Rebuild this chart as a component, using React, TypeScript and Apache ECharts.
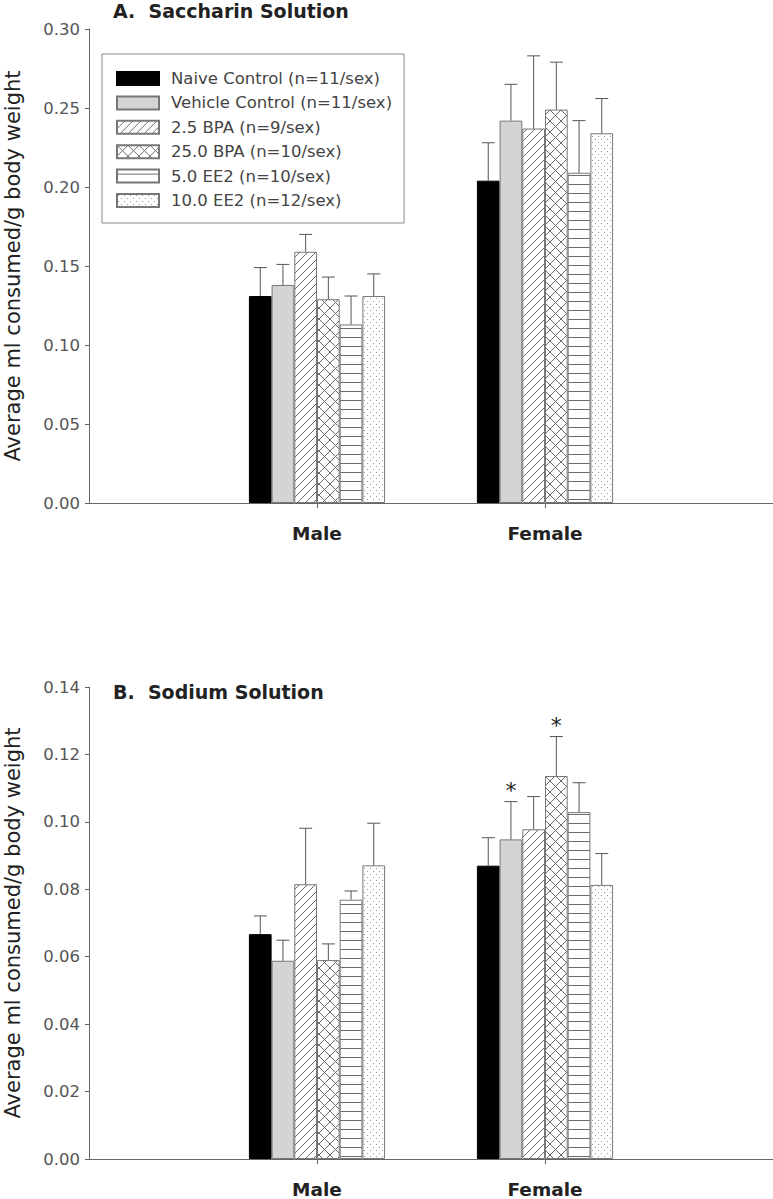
import React, { useEffect, useRef } from "react";
import * as echarts from "echarts";

const groupNames = [
  "Naive Control (n=11/sex)",
  "Vehicle Control (n=11/sex)",
  "2.5 BPA (n=9/sex)",
  "25.0 BPA (n=10/sex)",
  "5.0 EE2 (n=10/sex)",
  "10.0 EE2 (n=12/sex)",
];
const sexCategories = ["", "Male", "Female", ""];

// Panel A: Saccharin (mean, SEM)
const saccharinMale = [0.131, 0.138, 0.159, 0.129, 0.113, 0.131];
const saccharinMaleErr = [0.018, 0.013, 0.011, 0.014, 0.018, 0.014];
const saccharinFemale = [0.204, 0.242, 0.237, 0.249, 0.209, 0.234];
const saccharinFemaleErr = [0.024, 0.023, 0.046, 0.030, 0.033, 0.022];

// Panel B: Sodium (mean, SEM)
const sodiumMale = [0.0667, 0.0588, 0.0815, 0.059, 0.0769, 0.0871];
const sodiumMaleErr = [0.0054, 0.0061, 0.0166, 0.0048, 0.0026, 0.0125];
const sodiumFemale = [0.087, 0.0948, 0.0978, 0.1136, 0.1029, 0.0813];
const sodiumFemaleErr = [0.0083, 0.0112, 0.0097, 0.0117, 0.0087, 0.0093];
const sodiumFemaleSig = [false, true, false, true, false, false];

const FONT = "DejaVu Sans";
const BAR_W = 22.7;

function makeCanvas(w: number, h: number, draw: (ctx: CanvasRenderingContext2D) => void) {
  const c = document.createElement("canvas");
  c.width = w;
  c.height = h;
  const ctx = c.getContext("2d")!;
  ctx.fillStyle = "#ffffff";
  ctx.fillRect(0, 0, w, h);
  draw(ctx);
  return c;
}

function buildFills(): any[] {
  const hatch = makeCanvas(8, 8, (ctx) => {
    ctx.strokeStyle = "#6a6a6a";
    ctx.lineWidth = 1;
    ctx.beginPath();
    ctx.moveTo(-1, 9);
    ctx.lineTo(9, -1);
    ctx.moveTo(-1, 1);
    ctx.lineTo(1, -1);
    ctx.moveTo(7, 9);
    ctx.lineTo(9, 7);
    ctx.stroke();
  });
  const cross = makeCanvas(11, 11, (ctx) => {
    ctx.strokeStyle = "#6a6a6a";
    ctx.lineWidth = 1;
    ctx.beginPath();
    ctx.moveTo(-1, 12);
    ctx.lineTo(12, -1);
    ctx.moveTo(-1, -1);
    ctx.lineTo(12, 12);
    ctx.stroke();
  });
  const horiz = makeCanvas(9, 9, (ctx) => {
    ctx.fillStyle = "#6a6a6a";
    ctx.fillRect(0, 4, 9, 1);
  });
  const dots = makeCanvas(6, 6, (ctx) => {
    ctx.fillStyle = "#9a9a9a";
    ctx.fillRect(1, 1, 1, 1);
    ctx.fillRect(4, 4, 1, 1);
  });
  return [
    "#000000",
    "#d4d4d4",
    { image: hatch, repeat: "repeat" },
    { image: cross, repeat: "repeat" },
    { image: horiz, repeat: "repeat" },
    { image: dots, repeat: "repeat" },
  ];
}

function errorData(male: number[], maleErr: number[], female: number[], femaleErr: number[], femaleSig?: boolean[]) {
  const out: any[] = [];
  for (let s = 0; s < 6; s++) {
    out.push([1, s, male[s], male[s] + maleErr[s], 0]);
    out.push([2, s, female[s], female[s] + femaleErr[s], femaleSig && femaleSig[s] ? 1 : 0]);
  }
  return out;
}

const renderErr = (params: any, api: any) => {
  const cat = api.value(0);
  const s = api.value(1);
  const m = api.value(2);
  const top = api.value(3);
  const sig = api.value(4);
  const b = api.coord([cat, m]);
  const t = api.coord([cat, top]);
  const x = b[0] + (s - 2.5) * BAR_W;
  const children: any[] = [
    { type: "line", shape: { x1: x, y1: b[1], x2: x, y2: t[1] }, style: { stroke: "#555", lineWidth: 1 } },
    { type: "line", shape: { x1: x - 6.5, y1: t[1], x2: x + 6.5, y2: t[1] }, style: { stroke: "#555", lineWidth: 1 } },
  ];
  if (sig) {
    children.push({
      type: "text",
      x: x,
      y: t[1] - 11,
      style: { text: "*", fontSize: 22, fontFamily: FONT, fill: "#222", align: "center", verticalAlign: "middle" },
    });
  }
  return { type: "group", children };
};

export default function App() {
  const ref = useRef<HTMLDivElement>(null);
  useEffect(() => {
    if (!ref.current) return;
    const chart = echarts.init(ref.current, undefined, { renderer: "svg" });
    const fills = buildFills();
    const borders = ["#000000", "#777777", "#777777", "#777777", "#777777", "#777777"];

    const yAxisCommon = (min: number, max: number, interval: number, gridIndex: number) => ({
      type: "value",
      gridIndex,
      min,
      max,
      interval,
      name: "Average ml consumed/g body weight",
      nameLocation: "middle",
      nameGap: 66,
      nameTextStyle: { fontFamily: FONT, fontSize: 21, color: "#222" },
      axisLine: { show: true, lineStyle: { color: "#666", width: 1 } },
      axisTick: { show: true, length: 4, lineStyle: { color: "#666" } },
      splitLine: { show: false },
      axisLabel: {
        fontFamily: FONT,
        fontSize: 16.5,
        color: "#555",
        margin: 9,
        formatter: (v: number) => v.toFixed(2),
      },
    });
    const xAxisCommon = (gridIndex: number) => ({
      type: "category",
      gridIndex,
      data: sexCategories,
      boundaryGap: false,
      axisLine: { show: true, lineStyle: { color: "#666", width: 1 } },
      axisTick: { show: true, length: 5, interval: (i: number) => i === 1 || i === 2, lineStyle: { color: "#666" } },
      axisLabel: { interval: 0, fontFamily: FONT, fontSize: 18.5, fontWeight: "bold", color: "#222", margin: 21 },
      splitLine: { show: false },
    });

    const series: any[] = [];
    const panels = [
      { male: saccharinMale, female: saccharinFemale, idx: 0 },
      { male: sodiumMale, female: sodiumFemale, idx: 1 },
    ];
    panels.forEach((p) => {
      for (let s = 0; s < 6; s++) {
        series.push({
          type: "bar",
          name: groupNames[s],
          xAxisIndex: p.idx,
          yAxisIndex: p.idx,
          barWidth: BAR_W,
          barGap: "0%",
          data: ["-", p.male[s], p.female[s], "-"],
          itemStyle: { color: fills[s], borderColor: borders[s], borderWidth: 1 },
          emphasis: { disabled: true },
        });
      }
    });
    series.push({
      type: "custom",
      name: "errA",
      xAxisIndex: 0,
      yAxisIndex: 0,
      z: 10,
      renderItem: renderErr,
      encode: { x: 0, y: 3 },
      data: errorData(saccharinMale, saccharinMaleErr, saccharinFemale, saccharinFemaleErr),
    });
    series.push({
      type: "custom",
      name: "errB",
      xAxisIndex: 1,
      yAxisIndex: 1,
      z: 10,
      renderItem: renderErr,
      encode: { x: 0, y: 3 },
      data: errorData(sodiumMale, sodiumMaleErr, sodiumFemale, sodiumFemaleErr, sodiumFemaleSig),
    });

    chart.setOption({
      animation: false,
      backgroundColor: "#ffffff",
      textStyle: { fontFamily: FONT },
      title: [
        {
          text: "A.  Saccharin Solution",
          left: 113,
          top: 1,
          padding: 0,
          textStyle: { fontFamily: FONT, fontSize: 19, fontWeight: "bold", color: "#222" },
        },
        {
          text: "B.  Sodium Solution",
          left: 113,
          top: 682,
          padding: 0,
          textStyle: { fontFamily: FONT, fontSize: 19, fontWeight: "bold", color: "#222" },
        },
      ],
      legend: {
        data: groupNames,
        icon: "rect",
        orient: "vertical",
        left: 102,
        top: 54,
        padding: [16, 12, 14, 14],
        itemWidth: 42,
        itemHeight: 13,
        itemGap: 7.4,
        borderColor: "#888",
        borderWidth: 1,
        selectedMode: false,
        textStyle: { fontFamily: FONT, fontSize: 16.5, color: "#444", padding: [0, 0, 0, 7] },
      },
      grid: [
        { left: 89, right: 0, top: 29, bottom: 696, containLabel: false, outerBoundsMode: "none" },
        { left: 89, right: 0, top: 687, bottom: 40, containLabel: false, outerBoundsMode: "none" },
      ],
      xAxis: [xAxisCommon(0), xAxisCommon(1)],
      yAxis: [yAxisCommon(0, 0.3, 0.05, 0), yAxisCommon(0, 0.14, 0.02, 1)],
      series,
    });
    return () => chart.dispose();
  }, []);
  return (
    <div
      ref={ref}
      style={{ position: "absolute", left: 0, top: 0, width: 773, height: 1199, background: "#fff" }}
    />
  );
}
